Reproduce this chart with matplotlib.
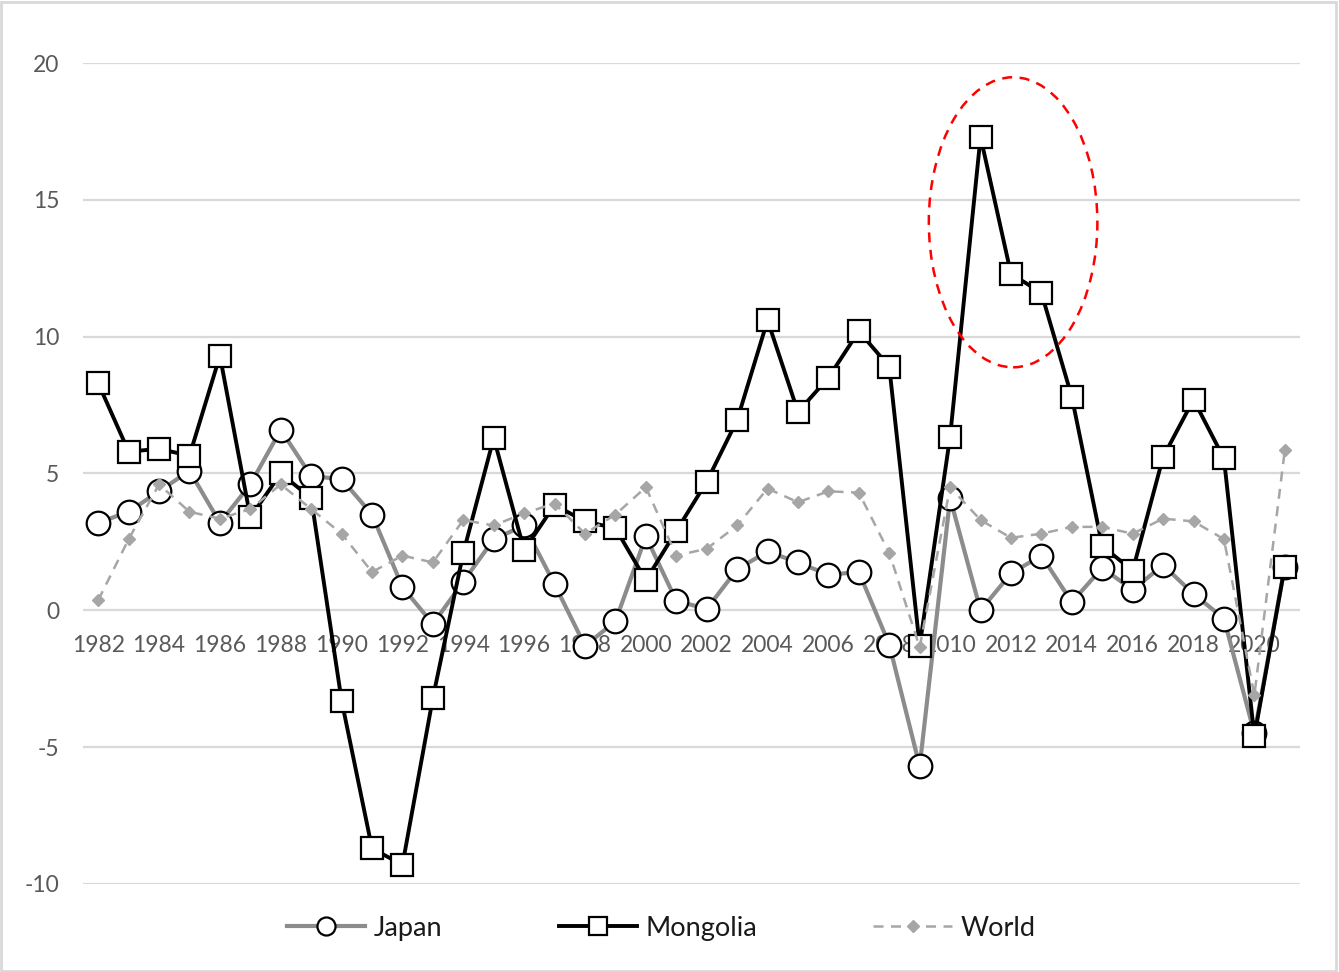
import matplotlib
matplotlib.use('Agg')
import matplotlib.pyplot as plt
from matplotlib.patches import Ellipse, Rectangle
from matplotlib.lines import Line2D

plt.rcParams['font.family'] = ['Lato', 'DejaVu Sans']

years = list(range(1982, 2022))

japan = [3.2, 3.6, 4.35, 5.1, 3.2, 4.6, 6.6, 4.9, 4.8, 3.5,
         0.85, -0.5, 1.05, 2.6, 3.1, 0.95, -1.3, -0.4, 2.7, 0.35,
         0.05, 1.5, 2.15, 1.75, 1.3, 1.4, -1.25, -5.7, 4.1, 0.0,
         1.35, 2.0, 0.3, 1.55, 0.75, 1.65, 0.6, -0.3, -4.5, 1.6]

mongolia = [8.3, 5.8, 5.9, 5.65, 9.3, 3.4, 5.0, 4.1, -3.3, -8.7,
            -9.3, -3.2, 2.1, 6.3, 2.2, 3.85, 3.25, 3.0, 1.1, 2.9,
            4.7, 6.95, 10.6, 7.25, 8.5, 10.2, 8.9, -1.3, 6.35, 17.3,
            12.3, 11.6, 7.8, 2.35, 1.45, 5.6, 7.7, 5.55, -4.6, 1.6]

world = [0.37, 2.6, 4.6, 3.6, 3.35, 3.7, 4.6, 3.7, 2.8, 1.4,
         2.0, 1.75, 3.3, 3.1, 3.55, 3.9, 2.8, 3.5, 4.5, 2.0,
         2.25, 3.1, 4.45, 3.95, 4.35, 4.3, 2.1, -1.35, 4.5, 3.3,
         2.65, 2.8, 3.05, 3.05, 2.8, 3.35, 3.25, 2.6, -3.1, 5.85]

year_labels = list(range(1982, 2021, 2))
y_ticks = [-10, -5, 0, 5, 10, 15, 20]

W, H = 1339, 972
fig = plt.figure(figsize=(W / 100, H / 100), dpi=100)
ax = fig.add_axes([83 / W, 1 - 884 / H, (1300 - 83) / W, (884 - 63) / H])

# outer chart border
fig.patches.append(Rectangle((0.001, 0.001), 0.997, 0.997, transform=fig.transFigure,
                             fill=False, edgecolor='#d9d9d9', linewidth=2))

ax.set_xlim(1981.5, 2021.5)
ax.set_ylim(-10, 20)

for yv in y_ticks:
    ax.axhline(yv, color='#d9d9d9', linewidth=1.6, zorder=0)

ax.plot(years, japan, color='#8c8c8c', linewidth=3.0, marker='o', markersize=17,
        markerfacecolor='white', markeredgecolor='black', markeredgewidth=1.6,
        label='Japan', zorder=2)
ax.plot(years, mongolia, color='black', linewidth=2.8, marker='s', markersize=16.5,
        markerfacecolor='white', markeredgecolor='black', markeredgewidth=1.6,
        label='Mongolia', zorder=3)
ax.plot(years, world, color='#a6a6a6', linewidth=1.8, linestyle=(0, (4, 3)),
        marker='D', markersize=6, markerfacecolor='#a6a6a6',
        markeredgecolor='#a6a6a6', label='World', zorder=4)

# highlight ellipse
ax.add_patch(Ellipse((2012.07, 14.18), 5.54, 10.6, fill=False, edgecolor='red',
                     linestyle=(0, (4, 3)), linewidth=1.8, zorder=5))

for s in ax.spines.values():
    s.set_visible(False)

ax.set_yticks(y_ticks)
ax.set_yticklabels([str(v) for v in y_ticks])
ax.tick_params(axis='y', length=0, pad=17, labelsize=16.5, labelcolor='#595959')

# year labels sit just under the zero line
ax.set_xticks([])
for yr in year_labels:
    ax.annotate(str(yr), (yr, 0), xytext=(0, -18), textcoords='offset points',
                ha='center', va='top', fontsize=16.5, color='#595959', zorder=1)

handles = [
    Line2D([], [], color='#8c8c8c', linewidth=3.0, marker='o', markersize=13,
           markerfacecolor='white', markeredgecolor='black', markeredgewidth=1.6),
    Line2D([], [], color='black', linewidth=2.8, marker='s', markersize=13,
           markerfacecolor='white', markeredgecolor='black', markeredgewidth=1.6),
    Line2D([], [], color='#a6a6a6', linewidth=1.8, linestyle=(0, (4, 3)),
           marker='D', markersize=6, markerfacecolor='#a6a6a6', markeredgecolor='#a6a6a6'),
]
leg = fig.legend(handles, ['Japan', 'Mongolia', 'World'], loc='center',
                 bbox_to_anchor=(661 / W, 1 - 928 / H), ncol=3, frameon=False,
                 fontsize=19.5, handlelength=2.9, columnspacing=4.3, handletextpad=0.3)
for t in leg.get_texts():
    t.set_color('#1a1a1a')

fig.savefig('out.png', dpi=100)
